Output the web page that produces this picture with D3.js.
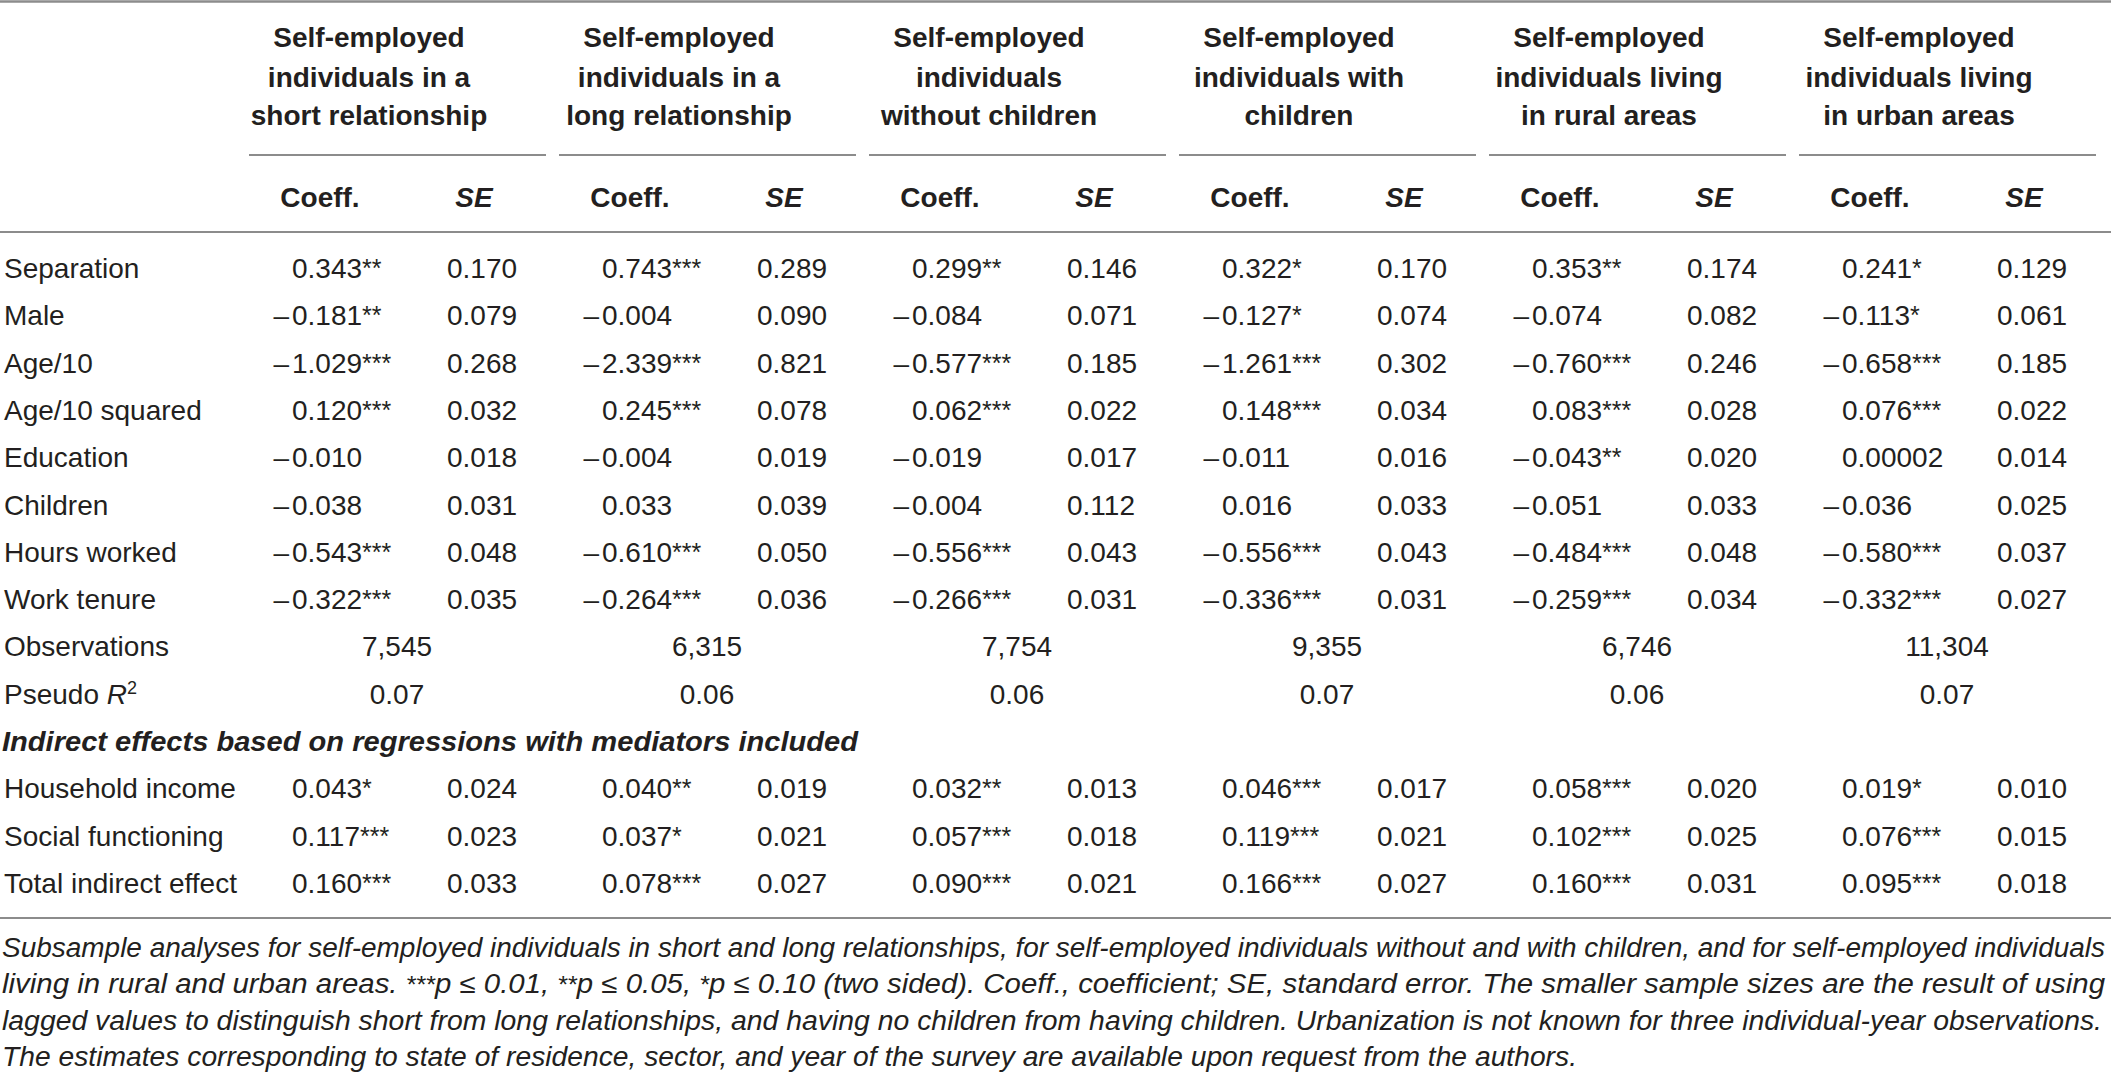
<!DOCTYPE html>
<html><head><meta charset="utf-8">
<script src="https://cdn.jsdelivr.net/npm/d3@7"></script>
<style>
html,body{margin:0;padding:0;background:#fff;overflow:hidden;}
svg{display:block;}
text{font-family:"Liberation Sans",Arial,Helvetica,sans-serif;fill:#231f20;}
</style></head>
<body>
<svg id="chart" width="2111" height="1074"></svg>
<script>
// ---------- DATA ----------
const groupTitles = [
  ["Self-employed", "individuals in a", "short relationship"],
  ["Self-employed", "individuals in a", "long relationship"],
  ["Self-employed", "individuals", "without children"],
  ["Self-employed", "individuals with", "children"],
  ["Self-employed", "individuals living", "in rural areas"],
  ["Self-employed", "individuals living", "in urban areas"]
];
const rowLabels = ["Separation", "Male", "Age/10", "Age/10 squared", "Education", "Children", "Hours worked", "Work tenure"];
const coefShort = ["0.343**", "-0.181**", "-1.029***", "0.120***", "-0.010", "-0.038", "-0.543***", "-0.322***"];
const seShort   = ["0.170", "0.079", "0.268", "0.032", "0.018", "0.031", "0.048", "0.035"];
const coefLong  = ["0.743***", "-0.004", "-2.339***", "0.245***", "-0.004", "0.033", "-0.610***", "-0.264***"];
const seLong    = ["0.289", "0.090", "0.821", "0.078", "0.019", "0.039", "0.050", "0.036"];
const coefNoKids = ["0.299**", "-0.084", "-0.577***", "0.062***", "-0.019", "-0.004", "-0.556***", "-0.266***"];
const seNoKids   = ["0.146", "0.071", "0.185", "0.022", "0.017", "0.112", "0.043", "0.031"];
const coefKids  = ["0.322*", "-0.127*", "-1.261***", "0.148***", "-0.011", "0.016", "-0.556***", "-0.336***"];
const seKids    = ["0.170", "0.074", "0.302", "0.034", "0.016", "0.033", "0.043", "0.031"];
const coefRural = ["0.353**", "-0.074", "-0.760***", "0.083***", "-0.043**", "-0.051", "-0.484***", "-0.259***"];
const seRural   = ["0.174", "0.082", "0.246", "0.028", "0.020", "0.033", "0.048", "0.034"];
const coefUrban = ["0.241*", "-0.113*", "-0.658***", "0.076***", "0.00002", "-0.036", "-0.580***", "-0.332***"];
const seUrban   = ["0.129", "0.061", "0.185", "0.022", "0.014", "0.025", "0.037", "0.027"];
const observations = ["7,545", "6,315", "7,754", "9,355", "6,746", "11,304"];
const pseudoR2 = ["0.07", "0.06", "0.06", "0.07", "0.06", "0.07"];
const sectionTitle = "Indirect effects based on regressions with mediators included";
const indirectLabels = ["Household income", "Social functioning", "Total indirect effect"];
const indCoefShort = ["0.043*", "0.117***", "0.160***"],  indSeShort = ["0.024", "0.023", "0.033"];
const indCoefLong  = ["0.040**", "0.037*", "0.078***"],   indSeLong  = ["0.019", "0.021", "0.027"];
const indCoefNoKids = ["0.032**", "0.057***", "0.090***"], indSeNoKids = ["0.013", "0.018", "0.021"];
const indCoefKids  = ["0.046***", "0.119***", "0.166***"], indSeKids  = ["0.017", "0.021", "0.027"];
const indCoefRural = ["0.058***", "0.102***", "0.160***"], indSeRural = ["0.020", "0.025", "0.031"];
const indCoefUrban = ["0.019*", "0.076***", "0.095***"],   indSeUrban = ["0.010", "0.015", "0.018"];
const footnoteLines = [
  "Subsample analyses for self-employed individuals in short and long relationships, for self-employed individuals without and with children, and for self-employed individuals",
  "living in rural and urban areas. ***p \u2264 0.01, **p \u2264 0.05, *p \u2264 0.10 (two sided). Coeff., coefficient; SE, standard error. The smaller sample sizes are the result of using",
  "lagged values to distinguish short from long relationships, and having no children from having children. Urbanization is not known for three individual-year observations.",
  "The estimates corresponding to state of residence, sector, and year of the survey are available upon request from the authors."
];

// ---------- BUILD ----------
const coefs = [coefShort, coefLong, coefNoKids, coefKids, coefRural, coefUrban];
const ses = [seShort, seLong, seNoKids, seKids, seRural, seUrban];
const indCoefs = [indCoefShort, indCoefLong, indCoefNoKids, indCoefKids, indCoefRural, indCoefUrban];
const indSes = [indSeShort, indSeLong, indSeNoKids, indSeKids, indSeRural, indSeUrban];

const W = 2111, H = 1074;
const svg = d3.select("#chart");
const FS = 28;
const rule = "#8c8c8c";

const gx = d3.scaleLinear().domain([0, 6]).range([249, 249 + 310 * 6]);
const groupW = 297;
const ry = d3.scaleLinear().domain([0, 13]).range([268, 883]);
const fy = d3.scaleLinear().domain([0, 3]).range([947, 1056]);
const base = 10;

svg.append("line").attr("x1", 0).attr("x2", W).attr("y1", 1.5).attr("y2", 1.5).attr("stroke", rule).attr("stroke-width", 2.5);
svg.append("line").attr("x1", 0).attr("x2", W).attr("y1", 232).attr("y2", 232).attr("stroke", rule).attr("stroke-width", 2);
svg.append("line").attr("x1", 0).attr("x2", W).attr("y1", 918).attr("y2", 918).attr("stroke", rule).attr("stroke-width", 2);

const g = svg.selectAll("g.grp").data(groupTitles).join("g").attr("class", "grp")
  .attr("transform", (d, i) => `translate(${gx(i)},0)`);
g.each(function (lines) {
  d3.select(this).selectAll("text.ttl").data(lines).join("text").attr("class", "ttl")
    .attr("x", 120).attr("y", (d, j) => [37, 77, 115][j] + base)
    .attr("text-anchor", "middle").attr("font-weight", "bold").attr("font-size", FS)
    .text(d => d);
});
g.append("line").attr("x1", 0).attr("x2", groupW).attr("y1", 155).attr("y2", 155)
  .attr("stroke", rule).attr("stroke-width", 2);
g.append("text").attr("x", 71).attr("y", 197 + base).attr("text-anchor", "middle")
  .attr("font-weight", "bold").attr("font-size", FS).text("Coeff.");
g.append("text").attr("x", 225).attr("y", 197 + base).attr("text-anchor", "middle")
  .attr("font-weight", "bold").attr("font-style", "italic").attr("font-size", FS).text("SE");

function numCell(sel, str, x, y) {
  const m = str.match(/^(-?)([0-9.,]+)(\**)$/);
  if (m[1] === "-") sel.append("text").attr("x", x - 3).attr("y", y).attr("text-anchor", "end")
    .attr("font-size", FS).text("\u2013");
  const t = sel.append("text").attr("x", x).attr("y", y).attr("font-size", FS);
  t.append("tspan").text(m[2]);
  if (m[3]) t.append("tspan").attr("font-size", 25).attr("dy", -1).text(m[3]);
}

const allLabels = rowLabels.concat(["Observations", "Pseudo R2", sectionTitle], indirectLabels);
allLabels.forEach((lab, i) => {
  const y = ry(i) + base;
  if (i === 10) {
    svg.append("text").attr("x", 2).attr("y", y).attr("font-size", FS)
      .attr("font-weight", "bold").attr("font-style", "italic")
      .attr("textLength", 856).attr("lengthAdjust", "spacingAndGlyphs").text(lab);
  } else if (i === 9) {
    const t = svg.append("text").attr("x", 4).attr("y", y).attr("font-size", FS);
    t.append("tspan").text("Pseudo ");
    t.append("tspan").attr("font-style", "italic").text("R");
    t.append("tspan").attr("font-size", 18).attr("dy", -10).text("2");
  } else {
    svg.append("text").attr("x", 4).attr("y", y).attr("font-size", FS).text(lab);
  }
});

g.each(function (d, gi) {
  const sel = d3.select(this);
  coefs[gi].forEach((v, r) => numCell(sel, v, 43, ry(r) + base));
  ses[gi].forEach((v, r) => numCell(sel, v, 198, ry(r) + base));
  sel.append("text").attr("x", 148).attr("y", ry(8) + base).attr("text-anchor", "middle")
    .attr("font-size", FS).text(observations[gi]);
  sel.append("text").attr("x", 148).attr("y", ry(9) + base).attr("text-anchor", "middle")
    .attr("font-size", FS).text(pseudoR2[gi]);
  indCoefs[gi].forEach((v, r) => numCell(sel, v, 43, ry(11 + r) + base));
  indSes[gi].forEach((v, r) => numCell(sel, v, 198, ry(11 + r) + base));
});

const fnWidths = [2103, 2103, 2100, 1575];
footnoteLines.forEach((line, i) => {
  const t = svg.append("text").attr("x", 2).attr("y", fy(i) + base)
    .attr("font-size", 27).attr("font-style", "italic");
  line.split(/(\*+)(?=p)/).forEach(p => {
    if (/^\*+$/.test(p)) t.append("tspan").attr("font-size", 23).text(p);
    else t.append("tspan").text(p);
  });
  t.attr("textLength", fnWidths[i]).attr("lengthAdjust", "spacingAndGlyphs");
});
</script>
</body></html>
